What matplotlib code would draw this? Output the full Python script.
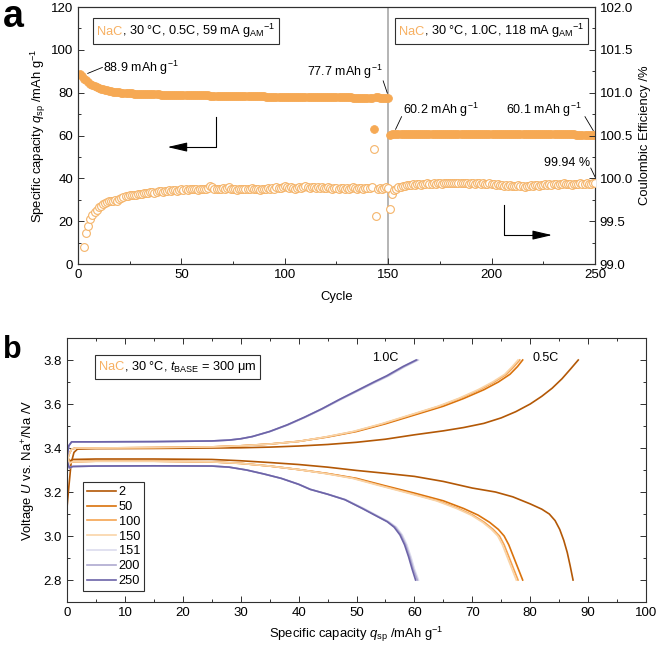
import matplotlib
matplotlib.use('Agg')
import matplotlib.pyplot as plt
from matplotlib.offsetbox import TextArea, HPacker, AnchoredOffsetbox
from matplotlib.ticker import MultipleLocator, FormatStrFormatter

plt.rcParams['font.family'] = ['Liberation Sans', 'DejaVu Sans']
plt.rcParams['mathtext.fontset'] = 'custom'
plt.rcParams['mathtext.rm'] = 'Liberation Sans'
plt.rcParams['mathtext.it'] = 'Liberation Sans:italic'
plt.rcParams['mathtext.bf'] = 'Liberation Sans:bold'

# ---------------- Panel a data ----------------
cycle = list(range(1, 251))
capacity = [
    88.9, 87.7, 86.6, 85.7, 84.9, 84.2, 83.6, 83.1, 82.6, 82.2,
    81.9, 81.6, 81.3, 81.1, 80.9, 80.7, 80.5, 80.4, 80.3, 80.1,
    80.0, 79.9, 79.9, 79.8, 79.7, 79.7, 79.6, 79.6, 79.5, 79.5,
    79.4, 79.4, 79.4, 79.3, 79.3, 79.3, 79.2, 79.2, 79.2, 79.1,
    79.1, 79.1, 79.1, 79.0, 79.0, 79.0, 79.0, 78.9, 78.9, 78.9,
    78.9, 78.9, 78.8, 78.8, 78.8, 78.8, 78.8, 78.7, 78.7, 78.7,
    78.7, 78.7, 78.7, 78.6, 78.6, 78.6, 78.6, 78.6, 78.6, 78.5,
    78.5, 78.5, 78.5, 78.5, 78.5, 78.5, 78.4, 78.4, 78.4, 78.4,
    78.4, 78.4, 78.4, 78.3, 78.3, 78.3, 78.3, 78.3, 78.3, 78.3,
    78.2, 78.2, 78.2, 78.2, 78.2, 78.2, 78.2, 78.1, 78.1, 78.1,
    78.1, 78.1, 78.1, 78.1, 78.0, 78.0, 78.0, 78.0, 78.0, 78.0,
    78.0, 77.9, 77.9, 77.9, 77.9, 77.9, 77.9, 77.9, 77.9, 77.8,
    77.8, 77.8, 77.8, 77.8, 77.8, 77.8, 77.8, 77.8, 77.8, 77.8,
    77.8, 77.8, 77.7, 77.7, 77.7, 77.7, 77.7, 77.7, 77.7, 77.7,
    77.7, 77.7, 62.9, 77.8, 77.8, 77.7, 77.7, 77.7, 77.7, 77.7,
    60.2, 60.7, 60.8, 60.9, 60.9, 60.9, 60.9, 60.9, 60.8, 60.8,
    60.8, 60.8, 60.8, 60.8, 60.8, 60.8, 60.8, 60.8, 60.8, 60.8,
    60.8, 60.8, 60.8, 60.8, 60.8, 60.8, 60.8, 60.8, 60.8, 60.8,
    60.7, 60.7, 60.7, 60.7, 60.7, 60.7, 60.7, 60.7, 60.7, 60.7,
    60.7, 60.7, 60.7, 60.7, 60.7, 60.7, 60.7, 60.7, 60.7, 60.7,
    60.6, 60.6, 60.6, 60.6, 60.6, 60.6, 60.6, 60.6, 60.6, 60.6,
    60.6, 60.6, 60.6, 60.6, 60.6, 60.6, 60.6, 60.6, 60.6, 60.6,
    60.5, 60.5, 60.5, 60.5, 60.5, 60.5, 60.5, 60.5, 60.5, 60.5,
    60.5, 60.5, 60.5, 60.5, 60.5, 60.5, 60.5, 60.5, 60.5, 60.5,
    60.4, 60.4, 60.4, 60.3, 60.3, 60.3, 60.2, 60.2, 60.2, 60.1,
]
ce_cycle = list(range(3, 251))
ce = [
    99.20, 99.36, 99.44, 99.52, 99.57, 99.61, 99.63, 99.66,
    99.68, 99.70, 99.71, 99.72, 99.74, 99.73, 99.74, 99.75, 99.74, 99.76,
    99.77, 99.78, 99.79, 99.79, 99.80, 99.80, 99.81, 99.81, 99.82, 99.82,
    99.82, 99.83, 99.83, 99.83, 99.84, 99.84, 99.83, 99.84, 99.85, 99.85,
    99.84, 99.85, 99.85, 99.86, 99.85, 99.86, 99.86, 99.85, 99.86, 99.87,
    99.86, 99.87, 99.86, 99.87, 99.87, 99.88, 99.87, 99.86, 99.87, 99.88,
    99.88, 99.87, 99.89, 99.91, 99.90, 99.88, 99.87, 99.88, 99.88, 99.89,
    99.88, 99.89, 99.90, 99.88, 99.87, 99.87, 99.86, 99.87, 99.88, 99.87,
    99.88, 99.87, 99.88, 99.89, 99.88, 99.87, 99.88, 99.86, 99.87, 99.88,
    99.88, 99.89, 99.88, 99.89, 99.88, 99.90, 99.89, 99.89, 99.90, 99.91,
    99.90, 99.89, 99.90, 99.89, 99.88, 99.89, 99.90, 99.89, 99.90, 99.91,
    99.90, 99.89, 99.90, 99.90, 99.89, 99.90, 99.89, 99.90, 99.89, 99.89,
    99.90, 99.89, 99.88, 99.89, 99.89, 99.88, 99.89, 99.89, 99.88, 99.89,
    99.88, 99.89, 99.90, 99.89, 99.88, 99.89, 99.89, 99.88, 99.89, 99.89,
    99.89, 99.90, 100.34, 99.56, 99.88, 99.89, 99.88, 99.89, 99.90, 99.89,
    99.64, 99.82, 99.86, 99.88, 99.90, 99.90, 99.91, 99.91, 99.92, 99.92,
    99.92, 99.93, 99.92, 99.93, 99.93, 99.92, 99.93, 99.93, 99.94, 99.93,
    99.93, 99.94, 99.93, 99.94, 99.94, 99.93, 99.94, 99.95, 99.94, 99.95,
    99.95, 99.94, 99.95, 99.94, 99.94, 99.95, 99.94, 99.94, 99.93, 99.94,
    99.94, 99.93, 99.94, 99.94, 99.93, 99.94, 99.93, 99.93, 99.94, 99.93,
    99.93, 99.92, 99.93, 99.92, 99.92, 99.91, 99.92, 99.91, 99.92, 99.91,
    99.91, 99.91, 99.92, 99.91, 99.91, 99.90, 99.91, 99.91, 99.92, 99.91,
    99.92, 99.92, 99.91, 99.92, 99.92, 99.93, 99.92, 99.93, 99.92, 99.93,
    99.93, 99.92, 99.93, 99.93, 99.94, 99.93, 99.93, 99.93, 99.92, 99.93,
    99.93, 99.93, 99.94, 99.93, 99.93, 99.94, 99.93, 99.93, 99.94, 99.94,
]

# ---------------- Panel b data ----------------
legend_labels = ['2', '50', '100', '150', '151', '200', '250']
line_colors = ['#b35806', '#d9720c', '#f5a452', '#f9d4a8', '#dcdcee', '#aea9cf', '#6c63a8']

q2_ch = [0, 0.3, 0.7, 1.2, 1.8, 5, 15, 25, 30, 35, 40, 45, 50, 55, 60, 65, 68.5, 72, 75, 77.5, 80, 82,
         83.8, 85.5, 87, 88.3]
v2_ch = [3.13, 3.22, 3.33, 3.38, 3.395, 3.397, 3.398, 3.400, 3.401, 3.404, 3.409, 3.416, 3.426, 3.44, 3.46, 3.478,
         3.493, 3.512, 3.537, 3.565, 3.60, 3.635, 3.672, 3.715, 3.76, 3.80]
q2_dis = [0, 0.4, 1, 5, 15, 25, 30, 35, 40, 45, 50, 55, 60, 65, 70, 74, 77, 80, 82, 83.3, 84.3, 85.1, 85.8, 86.4,
          86.9, 87.4]
v2_dis = [3.37, 3.34, 3.348, 3.35, 3.35, 3.348, 3.342, 3.334, 3.325, 3.313, 3.298, 3.285, 3.271, 3.248, 3.218, 3.20,
          3.178, 3.146, 3.122, 3.10, 3.07, 3.03, 2.98, 2.925, 2.865, 2.80]

v_ch_05 = [3.33, 3.37, 3.395, 3.40, 3.40, 3.402, 3.405, 3.41, 3.418, 3.43, 3.45, 3.475, 3.51, 3.55, 3.59, 3.625,
           3.665, 3.70, 3.735, 3.77, 3.80]
q50_ch = [0, 0.3, 0.8, 1.5, 5, 15, 25, 30, 35, 40, 45, 50, 55, 60, 65, 68.5, 72, 74.5, 76.5, 77.8, 78.7]
q100_ch = [0, 0.3, 0.8, 1.5, 5, 15, 25, 30, 35, 40, 44.7, 49.6, 54.5, 59.4, 64.3, 67.8, 71.3, 73.8, 75.9, 77.2, 78.2]
q150_ch = [0, 0.3, 0.8, 1.5, 5, 15, 25, 30, 35, 40, 44.6, 49.4, 54.3, 59.2, 64.1, 67.6, 71.0, 73.5, 75.6, 76.9, 77.9]

v_dis_05 = [3.37, 3.33, 3.338, 3.34, 3.34, 3.337, 3.330, 3.318, 3.302, 3.284, 3.262, 3.228, 3.195, 3.16, 3.125,
            3.095, 3.062, 3.03, 3.0, 2.96, 2.92, 2.88, 2.84, 2.80]
q50_dis = [0, 0.4, 1, 5, 15, 25, 30, 35, 40, 45, 50, 55, 60, 65, 68.5, 71, 73, 74.5, 75.5, 76.3, 76.9, 77.5, 78.1, 78.7]
q100_dis = [0, 0.4, 1, 5, 15, 25, 30, 35, 40, 44.8, 49.6, 54.4, 59.2, 64.1, 67.6, 70.1, 72.1, 73.6, 74.7, 75.5,
            76.1, 76.7, 77.3, 77.9]
q150_dis = [0, 0.4, 1, 5, 15, 25, 30, 35, 40, 44.6, 49.3, 54.1, 58.9, 63.8, 67.3, 69.8, 71.8, 73.3, 74.4, 75.2,
            75.8, 76.4, 77.0, 77.6]

v_ch_10 = [3.36, 3.41, 3.428, 3.428, 3.429, 3.432, 3.436, 3.442, 3.452, 3.475, 3.505, 3.54, 3.578, 3.62, 3.66,
           3.70, 3.728, 3.77, 3.80]
q151_ch = [0, 0.3, 0.8, 5, 15, 25, 28, 30, 32, 35.1, 38.2, 41.2, 44.2, 47.3, 50.3, 53.4, 55.6, 58.4, 60.7]
q200_ch = [0, 0.3, 0.8, 5, 15, 25, 28, 30, 32, 35, 38.1, 41.1, 44.1, 47.1, 50.2, 53.2, 55.4, 58.2, 60.5]
q250_ch = [0, 0.3, 0.8, 5, 15, 25, 28, 30, 32, 35, 38, 41, 44, 47, 50, 53, 55.2, 58, 60.3]

v_dis_10 = [3.34, 3.31, 3.316, 3.318, 3.319, 3.318, 3.313, 3.300, 3.282, 3.262, 3.235, 3.212, 3.19, 3.165, 3.125,
            3.09, 3.065, 3.04, 3.005, 2.96, 2.905, 2.85, 2.80]
q151_dis = [0, 0.4, 1, 5, 15, 25, 28, 31, 34, 37, 40.1, 42.1, 45.1, 48.2, 51.3, 53.8, 55.6, 56.9, 57.9, 58.7, 59.4,
            60.0, 60.7]
q200_dis = [0, 0.4, 1, 5, 15, 25, 28, 31, 34, 37, 40, 42, 45, 48, 51.1, 53.6, 55.4, 56.7, 57.7, 58.5, 59.2, 59.8, 60.5]
q250_dis = [0, 0.4, 1, 5, 15, 25, 28, 31, 34, 37, 40, 42, 45, 48, 51, 53.5, 55.3, 56.5, 57.5, 58.3, 59.0, 59.6, 60.2]

curves = [
    (q2_ch, v2_ch, q2_dis, v2_dis),
    (q50_ch, v_ch_05, q50_dis, v_dis_05),
    (q100_ch, v_ch_05, q100_dis, v_dis_05),
    (q150_ch, v_ch_05, q150_dis, v_dis_05),
    (q151_ch, v_ch_10, q151_dis, v_dis_10),
    (q200_ch, v_ch_10, q200_dis, v_dis_10),
    (q250_ch, v_ch_10, q250_dis, v_dis_10),
]

ORANGE = '#f6a954'
ORANGE_OPEN = '#f5b469'
ORANGE_TXT = '#f7b062'
SPINE = '#303030'
TFS = 9.5   # tick labels
LFS = 9.4   # axis labels
AFS = 9.0   # annotations

fig = plt.figure(figsize=(6.61, 6.49), dpi=100)

# ================= Panel a =================
axa = fig.add_axes([0.118, 0.5932, 0.782, 0.396])
axa2 = axa.twinx()

axa.axvline(150, color='#a8a8a8', lw=1.2, zorder=1)
axa.plot(cycle, capacity, 'o', ms=5.6, color=ORANGE, mec=ORANGE, mew=0.6, zorder=3)
axa2.plot(ce_cycle, ce, 'o', ms=5.6, mfc='white', mec=ORANGE_OPEN, mew=0.8, zorder=3)

axa.set_xlim(0, 250)
axa.set_ylim(0, 120)
axa2.set_ylim(99.0, 102.0)
axa.xaxis.set_major_locator(MultipleLocator(50))
axa.xaxis.set_minor_locator(MultipleLocator(25))
axa.yaxis.set_major_locator(MultipleLocator(20))
axa.yaxis.set_minor_locator(MultipleLocator(10))
axa2.yaxis.set_major_locator(MultipleLocator(0.5))
axa2.yaxis.set_minor_locator(MultipleLocator(0.25))
axa2.yaxis.set_major_formatter(FormatStrFormatter('%.1f'))
axa.tick_params(which='both', direction='in', labelsize=TFS, top=False, right=False, color=SPINE)
axa.tick_params(which='major', length=4, width=0.7)
axa.tick_params(which='minor', length=2.5, width=0.7)
axa2.tick_params(which='both', direction='in', labelsize=TFS, color=SPINE)
axa2.tick_params(which='major', length=4, width=0.7)
axa2.tick_params(which='minor', length=2.5, width=0.7)
for ax in (axa, axa2):
    for s in ax.spines.values():
        s.set_color(SPINE)
        s.set_linewidth(0.8)

axa.set_xlabel('Cycle', fontsize=LFS, labelpad=7)
axa.set_ylabel('Specific capacity $q_{\\rm sp}$ /mAh g$^{-1}$', fontsize=LFS, labelpad=2)
axa2.set_ylabel('Coulombic Efficiency /%', fontsize=LFS, labelpad=4)

# annotations
axa.plot([4.7, 11.8], [89.0, 91.8], color='k', lw=0.6)
axa.text(12.0, 91.6, '88.9 mAh g$^{-1}$', fontsize=AFS, va='center', ha='left')
axa.plot([147.6, 149.6], [85.5, 79.8], color='k', lw=0.6)
axa.text(147.4, 89.8, '77.7 mAh g$^{-1}$', fontsize=AFS, va='center', ha='right')
axa.plot([153.6, 156.5], [62.9, 68.8], color='k', lw=0.6)
axa.text(157.0, 72.0, '60.2 mAh g$^{-1}$', fontsize=AFS, va='center', ha='left')
axa.plot([245.2, 249.2], [68.8, 62.3], color='k', lw=0.6)
axa.text(243.8, 72.0, '60.1 mAh g$^{-1}$', fontsize=AFS, va='center', ha='right')
axa2.plot([248.0, 250.0], [100.12, 100.02], color='k', lw=0.6)
axa2.text(247.6, 100.18, '99.94 %', fontsize=AFS, va='center', ha='right')

# arrows
axa.plot([66.7, 66.7, 48.0], [68.6, 54.6, 54.6], color='k', lw=0.8)
axa.annotate('', xy=(43.3, 54.6), xytext=(52.0, 54.6),
             arrowprops=dict(arrowstyle='-|>,head_length=1.2,head_width=0.28', color='k', lw=0.8,
                             mutation_scale=10, shrinkA=0, shrinkB=0))
axa.plot([206.0, 206.0, 224.0], [27.6, 13.5, 13.5], color='k', lw=0.8)
axa.annotate('', xy=(229.3, 13.5), xytext=(220.0, 13.5),
             arrowprops=dict(arrowstyle='-|>,head_length=1.2,head_width=0.28', color='k', lw=0.8,
                             mutation_scale=10, shrinkA=0, shrinkB=0))


def colored_box(ax, parts, anchor, fs=9.2):
    areas = [TextArea(t, textprops=dict(color=c, fontsize=fs)) for t, c in parts]
    pack = HPacker(children=areas, align='baseline', pad=0, sep=0)
    ab = AnchoredOffsetbox(loc='upper left', child=pack, pad=0.3, frameon=True,
                           bbox_to_anchor=anchor, bbox_transform=ax.transAxes, borderpad=0,
                           prop=dict(size=fs))
    ab.patch.set_edgecolor(SPINE)
    ab.patch.set_linewidth(0.8)
    ab.zorder = 5
    ax.add_artist(ab)


colored_box(axa2, [('NaC', ORANGE_TXT), (', 30 °C, 0.5C, 59 mA g$_{\\rm AM}$$^{-1}$', 'black')], (0.029, 0.957))
colored_box(axa2, [('NaC', ORANGE_TXT), (', 30 °C, 1.0C, 118 mA g$_{\\rm AM}$$^{-1}$', 'black')], (0.613, 0.957))

# ================= Panel b =================
axb = fig.add_axes([0.1014, 0.0724, 0.8759, 0.4068])
for (qc, vc, qd, vd), col, lab in zip(curves, line_colors, legend_labels):
    axb.plot(qc, vc, color=col, lw=1.2, label=lab)
    axb.plot(qd, vd, color=col, lw=1.2)

axb.set_xlim(0, 100)
axb.set_ylim(2.7, 3.9)
axb.xaxis.set_major_locator(MultipleLocator(10))
axb.xaxis.set_minor_locator(MultipleLocator(5))
axb.yaxis.set_major_locator(MultipleLocator(0.2))
axb.yaxis.set_minor_locator(MultipleLocator(0.1))
axb.yaxis.set_major_formatter(FormatStrFormatter('%.1f'))
axb.tick_params(which='both', direction='in', labelsize=TFS, top=True, right=True, color=SPINE)
axb.tick_params(which='major', length=4, width=0.7)
axb.tick_params(which='minor', length=2.5, width=0.7)
for s in axb.spines.values():
    s.set_color(SPINE)
    s.set_linewidth(0.8)
axb.set_xlabel('Specific capacity $q_{\\rm sp}$ /mAh g$^{-1}$', fontsize=LFS, labelpad=4)
axb.set_ylabel('Voltage $U$ vs. Na$^{+}$/Na /V', fontsize=LFS, labelpad=4)

axb.text(55.0, 3.81, '1.0C', fontsize=AFS, ha='center', va='center')
axb.text(82.7, 3.81, '0.5C', fontsize=AFS, ha='center', va='center')

colored_box(axb, [('NaC', ORANGE_TXT), (', 30 °C, $t_{\\rm BASE}$ = 300 μm', 'black')], (0.048, 0.936))

leg = axb.legend(loc='lower left', bbox_to_anchor=(0.0276, 0.042), borderaxespad=0, fontsize=9.2,
                 handlelength=2.3, handletextpad=0.2, labelspacing=0.22, borderpad=0.3,
                 fancybox=False, framealpha=1, edgecolor=SPINE)
leg.get_frame().set_linewidth(0.8)

fig.text(0.004, 0.9584, 'a', fontsize=27, fontweight='bold', va='baseline', ha='left')
fig.text(0.004, 0.4484, 'b', fontsize=22, fontweight='bold', va='baseline', ha='left')

fig.savefig('out.png', dpi=100)
